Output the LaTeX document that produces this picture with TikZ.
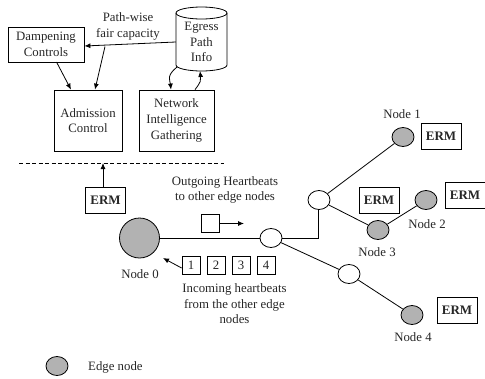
\documentclass[tikz,border=0pt]{standalone}
\usepackage{fontspec}
\setmainfont{Liberation Serif}
\usetikzlibrary{arrows.meta,shapes.geometric,positioning}
\tikzset{
  every node/.style={font=\fontsize{12.8}{15.6}\selectfont, text=black!85, align=center, inner sep=0pt},
  conn/.style={draw=black, line width=0.8pt},
  arr/.style={conn, -{Latex[length=6pt,width=5pt]}},
  box/.style={draw=black, line width=0.8pt, rectangle, inner sep=0pt},
  erm/.style={box, minimum width=40pt, minimum height=26pt, font=\fontsize{13}{15.6}\selectfont\bfseries},
  numbox/.style={box, minimum width=18pt, minimum height=18pt},
  edgen/.style={draw=black, line width=0.8pt, fill=black!30, ellipse, minimum width=22pt, minimum height=19pt},
  relay/.style={draw=black, line width=0.8pt, fill=white, ellipse, minimum width=22pt, minimum height=19pt}
}
\begin{document}
\begin{tikzpicture}[x=1pt,y=-1pt]
\useasboundingbox (0,0) rectangle (485,378);
% upper boxes
\node[box, minimum width=76pt, minimum height=35pt] (damp) at (46,44.5) {Dampening\\Controls};
\node[box, minimum width=68pt, minimum height=61pt] (adm) at (88,120.5) {Admission\\Control};
\node[box, minimum width=75pt, minimum height=61pt] (net) at (176.5,120.5) {Network\\Intelligence\\Gathering};
% cylinder
\draw[conn] (176,13) -- (176,65) arc[start angle=180, end angle=360, x radius=25.5pt, y radius=6pt] -- (227,13);
\draw[conn] (201.5,13) ellipse[x radius=25.5pt, y radius=6pt];
\node[minimum width=51pt, minimum height=58pt] (egress) at (201.5,42) {Egress\\Path\\Info};
\node (pw) at (128,26.5) {Path-wise\\fair capacity};
% dashed separator
\coordinate (dl) at (19,163);
\coordinate (dr) at (224,163);
\coordinate (dm) at (103,163);
\draw[conn, dash pattern=on 4pt off 2.5pt] (dl) -- (dr);
% edge nodes and relays
\node[draw=black, line width=0.8pt, fill=black!30, circle, minimum size=40pt] (n0) at (139.5,238) {};
\node[relay] (r0) at (271,238) {};
\node[relay] (r1) at (319,200) {};
\node[relay] (r2) at (349,274) {};
\node[edgen] (n1) at (403,137) {};
\node[edgen] (n2) at (426,200) {};
\node[edgen] (n3) at (378,230) {};
\node[edgen] (n4) at (412,315) {};
\node[edgen] (leg) at (57,366) {};
% labels
\node (l0) at (140,274.5) {Node 0};
\node (l1) at (402,114.5) {Node 1};
\node (l2) at (427,224.5) {Node 2};
\node (l3) at (377,252) {Node 3};
\node (l4) at (413,337) {Node 4};
\node[anchor=west] (legt) at (88,367) {Edge node};
\node (out) at (225,190) {Outgoing Heartbeats\\to other edge nodes};
\node (inc) at (234.5,304) {Incoming heartbeats\\from the other edge\\nodes};
% ERM boxes
\node[erm] (e0) at (105.5,200) {ERM};
\node[erm] (e1) at (441,136.5) {ERM};
\node[erm] (e3) at (379,200) {ERM};
\node[erm] (e2) at (465,195) {ERM};
\node[erm] (e4) at (457,310) {ERM};
% packets
\node[numbox] (out1) at (210,223.5) {};
\node[numbox] (p1) at (191,265) {1};
\node[numbox] (p2) at (216,265) {2};
\node[numbox] (p3) at (241,265) {3};
\node[numbox] (p4) at (266,265) {4};
\coordinate (outend) at (244,223.5);
\coordinate (inend) at (163,258);
% connectors
\coordinate (split) at (105,46.5);
\draw[arr] (egress.west) -- (damp.east |- 0,46);
\draw[arr] (split) -- (adm.north -| 95,0);
\draw[arr] (56.5,62) -- (adm.north -| 71,0);
\draw[arr] (e0.north -| dm) -- (dm);
\draw[arr] (177,67) .. controls (166,76) and (170,80) .. (net.north -| 171,0);
\draw[arr] (net.north -| 195,0) .. controls (201,82) and (201,80) .. (200,71);
\draw[conn] (n0) -- (r0);
\draw[conn] (r0.east) -- (318,238) -- (r1.south -| 318,0);
\draw[conn] (r0) -- (r2);
\draw[conn] (r2) -- (n4);
\draw[conn] (r1) -- (n1);
\draw[conn] (r1) -- (n3);
\draw[conn] (n3) -- (n2);
\draw[arr] (out1.east) -- (outend);
\draw[arr] ([yshift=-3pt]p1.west) -- (inend);
\end{tikzpicture}
\end{document}
